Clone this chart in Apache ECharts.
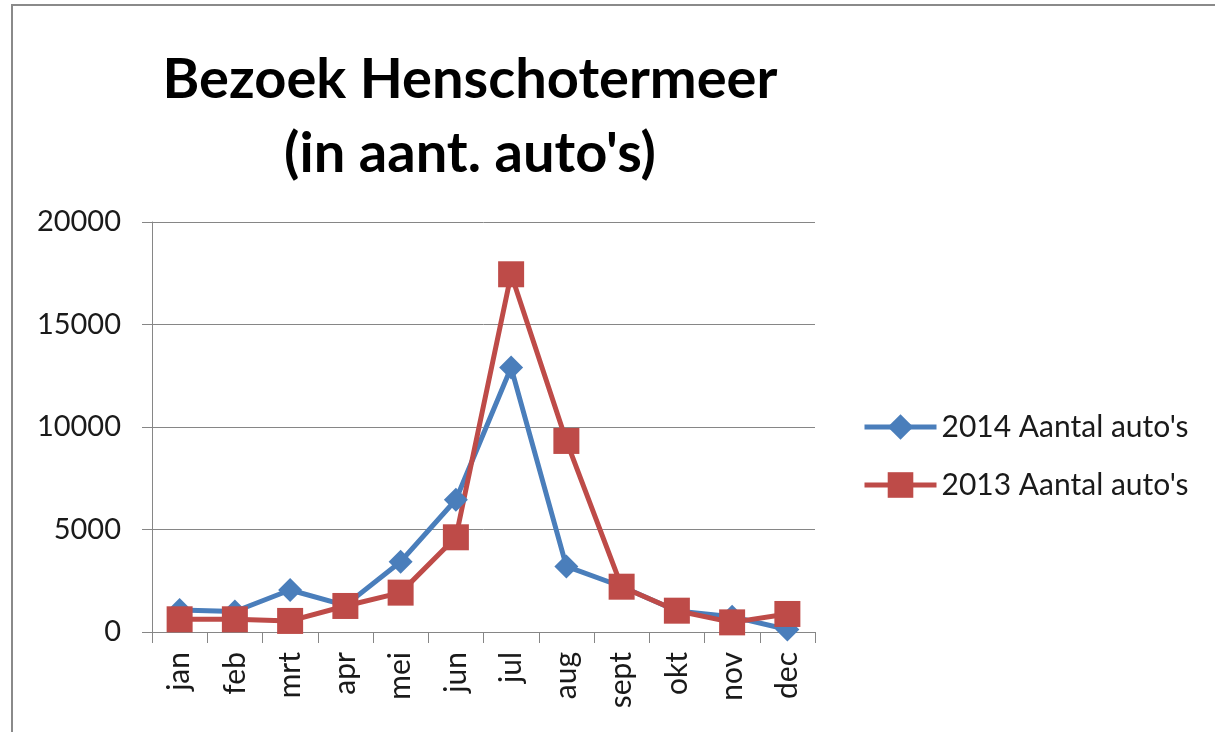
<!DOCTYPE html>
<html>
<head>
<meta charset="utf-8">
<script src="https://cdn.jsdelivr.net/npm/echarts@6/dist/echarts.min.js"></script>
<style>
  html, body { margin: 0; padding: 0; background: #fff; }
  #chart { width: 1215px; height: 732px; }
</style>
</head>
<body>
<div id="chart"></div>
<script>
const months = ['jan', 'feb', 'mrt', 'apr', 'mei', 'jun', 'jul', 'aug', 'sept', 'okt', 'nov', 'dec'];
const cars2014 = [1070, 1000, 2050, 1300, 3430, 6450, 12900, 3200, 2220, 1020, 750, 120];
const cars2013 = [620, 620, 540, 1270, 1920, 4620, 17450, 9320, 2210, 1040, 470, 880];
const yTicks = { min: 0, max: 20000, step: 5000 };

const chart = echarts.init(document.getElementById('chart'));

const labelFont = { fontFamily: 'Lato, "Open Sans", sans-serif', fontSize: 29, color: '#1a1a1a' };

chart.setOption({
  animation: false,
  backgroundColor: '#fff',
  graphic: [{
    type: 'rect',
    shape: { x: 12, y: 5, width: 1220, height: 740 },
    style: { fill: 'none', stroke: '#8a8a8a', lineWidth: 2 }
  }],
  title: {
    text: "Bezoek Henschotermeer\n(in aant. auto's)",
    left: 465,
    top: 38,
    textAlign: 'center',
    textStyle: {
      fontFamily: 'Lato, "Open Sans", sans-serif',
      fontWeight: 'bold',
      fontSize: 56,
      lineHeight: 74,
      color: '#000'
    }
  },
  legend: {
    orient: 'vertical',
    left: 857,
    top: 407,
    itemWidth: 72,
    itemHeight: 32,
    itemGap: 28,
    lineStyle: { width: 5 },
    textStyle: { ...labelFont, fontSize: 30 },
    data: ["2014 Aantal auto's", "2013 Aantal auto's"]
  },
  grid: { left: 152, right: 400, top: 222, bottom: 100 },
  xAxis: {
    type: 'category',
    data: months,
    boundaryGap: true,
    axisLine: { lineStyle: { color: '#868686', width: 1 } },
    axisTick: { show: true, length: 11, alignWithLabel: false, lineStyle: { color: '#868686' } },
    axisLabel: { ...labelFont, fontSize: 30, rotate: 90, margin: 20, interval: 0 }
  },
  yAxis: {
    type: 'value',
    min: yTicks.min,
    max: yTicks.max,
    interval: yTicks.step,
    axisLine: { show: true, lineStyle: { color: '#868686', width: 1 } },
    axisTick: { show: true, length: 10, inside: false, lineStyle: { color: '#868686' } },
    axisLabel: { ...labelFont, margin: 31, formatter: (v) => String(v) },
    splitLine: { lineStyle: { color: '#868686', width: 1 } }
  },
  series: [
    {
      name: "2014 Aantal auto's",
      type: 'line',
      data: cars2014,
      symbol: 'diamond',
      symbolSize: 24,
      lineStyle: { color: '#4a7ebb', width: 5 },
      itemStyle: { color: '#4a7ebb' }
    },
    {
      name: "2013 Aantal auto's",
      type: 'line',
      data: cars2013,
      symbol: 'rect',
      symbolSize: 26,
      lineStyle: { color: '#be4b48', width: 5 },
      itemStyle: { color: '#be4b48' }
    }
  ]
});

window.addEventListener('resize', () => chart.resize());
</script>
</body>
</html>
